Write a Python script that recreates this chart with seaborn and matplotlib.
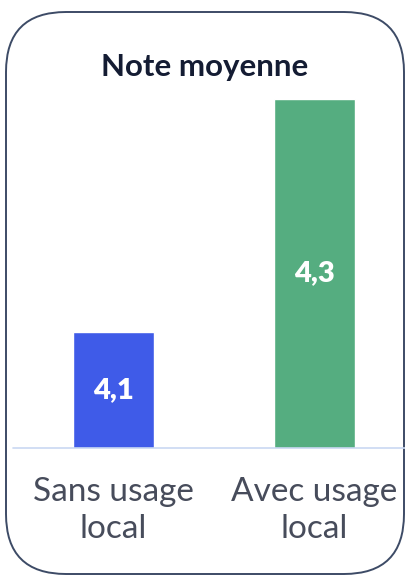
import matplotlib
matplotlib.use("Agg")
import matplotlib.pyplot as plt
from matplotlib.patches import FancyBboxPatch
import seaborn as sns
import pandas as pd

categories = ["Sans usage\nlocal", "Avec usage\nlocal"]
values = [4.1, 4.3]
value_labels = ["4,1", "4,3"]
bar_colors = ["#3f5be8", "#55ad80"]
title = "Note moyenne"

sns.set_theme(style="white")
plt.rcParams["font.family"] = ["Lato", "DejaVu Sans"]

W, H = 406, 576
fig = plt.figure(figsize=(W / 100, H / 100), dpi=100)
fig.patch.set_facecolor("white")

# Rounded frame drawn in pixel coordinates
frame = fig.add_axes([0, 0, 1, 1], zorder=0)
frame.set_xlim(0, W)
frame.set_ylim(H, 0)
frame.axis("off")
frame.add_patch(FancyBboxPatch((6, 12), 398, 562,
                               boxstyle="round,pad=0,rounding_size=60",
                               facecolor="white", edgecolor="#3d4b66",
                               linewidth=1.4))

# Bar axes: baseline at y=448 px, top (4.3) at y=99 px
left_px, bottom_px, width_px, height_px = 13, H - 448, 402, 349
ax = fig.add_axes([left_px / W, bottom_px / H, width_px / W, height_px / H], zorder=1)
ax.patch.set_alpha(0)

df = pd.DataFrame({"cat": categories, "val": values})
sns.barplot(data=df, x="cat", y="val", hue="cat", palette=bar_colors,
            width=0.403, legend=False, ax=ax, saturation=1)

ax.set_xlim(-0.5, 1.5)
ax.set_ylim(4.0, 4.3)
for s in ax.spines.values():
    s.set_visible(False)
ax.axhline(4.0, color="#c9d8f2", linewidth=1.2, clip_on=False, zorder=3)
ax.set_yticks([])
ax.set_xlabel("")
ax.set_ylabel("")
ax.tick_params(axis="x", length=0, pad=21)
for lbl in ax.get_xticklabels():
    lbl.set_fontsize(24)
    lbl.set_fontweight("normal")
    lbl.set_color("#474c5b")
    lbl.set_linespacing(1.3)

for i, (v, t) in enumerate(zip(values, value_labels)):
    ax.text(i, (4.0 + v) / 2, t, ha="center", va="center",
            fontsize=21, fontweight="heavy", color="white")

fig.text(205 / W, 1 - 67 / H, title, ha="center", va="center",
         fontsize=22.5, fontweight="bold", color="#141c33")

fig.savefig("out.png", dpi=100, facecolor="white")
